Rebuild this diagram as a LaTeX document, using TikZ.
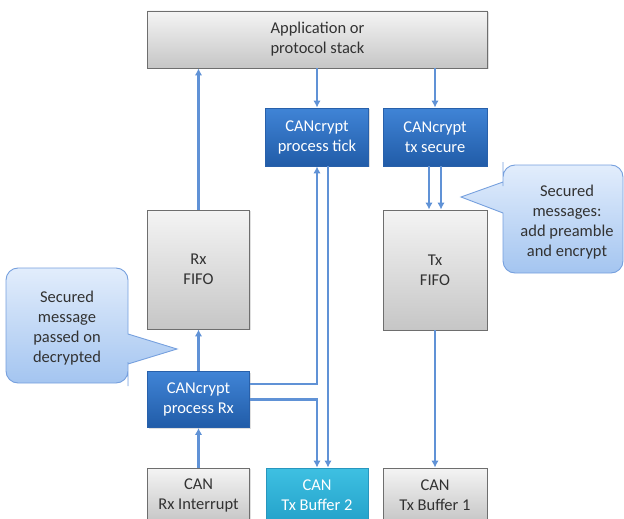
\documentclass[tikz,border=0pt]{standalone}
\usepackage{fontspec}
\setmainfont{Carlito}
\usepackage{xcolor}
\usetikzlibrary{positioning,arrows.meta,shadows}
\definecolor{linkblue}{RGB}{96,146,214}
\definecolor{graytop}{RGB}{244,244,244}
\definecolor{graybot}{RGB}{198,198,198}
\definecolor{grayedge}{RGB}{110,110,110}
\definecolor{graytext}{RGB}{50,50,50}
\definecolor{bluetop}{RGB}{64,132,214}
\definecolor{bluebot}{RGB}{33,92,168}
\definecolor{blueedge}{RGB}{40,96,170}
\definecolor{tealtop}{RGB}{62,192,226}
\definecolor{tealbot}{RGB}{36,162,202}
\definecolor{tealedge}{RGB}{40,150,190}
\definecolor{calltop}{RGB}{226,237,252}
\definecolor{callbot}{RGB}{164,197,240}
\definecolor{calledge}{RGB}{118,160,222}

\begin{document}
\begin{tikzpicture}[x=1pt,y=-1pt]
		\tikzset{>={Latex[length=7pt,width=7.5pt]}}
		\tikzset{
			box/.style={draw, line width=0.9pt, align=center, inner sep=2pt,
				font=\fontsize{16.5}{20}\selectfont,
				drop shadow={opacity=0.25, shadow xshift=1.2pt, shadow yshift=-1.2pt}},
			graybox/.style={box, draw=grayedge, top color=graytop, bottom color=graybot, text=graytext},
			bluebox/.style={box, draw=blueedge, top color=bluetop, bottom color=bluebot, text=white},
			tealbox/.style={box, draw=tealedge, top color=tealtop, bottom color=tealbot, text=white},
			link/.style={->, draw=linkblue, line width=2.2pt},
			callout/.style={draw=calledge, line width=0.9pt, top color=calltop, bottom color=callbot},
			calltext/.style={align=center, text=graytext, font=\fontsize{16.5}{20}\selectfont}
		}
		\useasboundingbox (0,0) rectangle (624,519);
		
		\node[graybox, minimum width=340pt, minimum height=57pt] (app) at (317.5,39.5) {Application or\\protocol stack};
		\node[bluebox, minimum width=103pt, minimum height=58pt] (tick) at (317,137) {CANcrypt\\process tick};
		\node[bluebox, minimum width=104pt, minimum height=58pt] (txsec) at (435,137) {CANcrypt\\tx secure};
		\node[graybox, minimum width=102pt, minimum height=119pt] (rxfifo) at (198.5,269.5) {Rx\\FIFO};
		\node[graybox, minimum width=104pt, minimum height=120pt] (txfifo) at (435,270) {Tx\\FIFO};
		\node[bluebox, minimum width=102pt, minimum height=56pt] (procrx) at (198.5,399.5) {CANcrypt\\process Rx};
		\node[graybox, minimum width=102pt, minimum height=54pt] (canrx) at (198.5,495) {CAN\\Rx Interrupt};
		\node[tealbox, minimum width=102pt, minimum height=54pt] (bufb) at (317,495) {CAN\\Tx Buffer 2};
		\node[graybox, minimum width=104pt, minimum height=54pt] (bufa) at (435,495) {CAN\\Tx Buffer 1};
		
		\draw[callout] (128,300) [rounded corners=12pt] -- (128,268) -- (6,268) -- (6,383) -- (128,383) -- (128,374)
			[sharp corners] -- (128,364) -- (177,349) -- (128,334) -- cycle;
		\node[calltext] (rxnote) at (67,328) {Secured\\message\\passed on\\decrypted};
		\draw[callout] (503,240) [rounded corners=12pt] -- (503,273) -- (623,273) -- (623,165) -- (503,165) -- (503,174)
			[sharp corners] -- (503,182) -- (461,197) -- (503,213) -- cycle;
		\node[calltext] (txnote) at (567,222) {Secured\\messages:\\add preamble\\and encrypt};
		
		\draw[link] (rxfifo.north) -- (rxfifo.north |- app.south);
		\draw[link] (app.south -| tick.north) -- (tick.north);
		\draw[link] (app.south -| txsec.north) -- (txsec.north);
		\draw[link] ([xshift=-6pt]txsec.south) -- ([xshift=-6pt]txfifo.north);
		\draw[link] ([xshift=6pt]txsec.south) -- ([xshift=6pt]txfifo.north);
		\draw[link] (txfifo) -- (bufa);
		\draw[link] (canrx) -- (procrx);
		\draw[link] (procrx) -- (rxfifo);
		\draw[link] ([yshift=15.5pt]procrx.east) -| (tick.south);
		\draw[link] (procrx.east) -| (bufb.north);
		\draw[link] ([xshift=11pt]tick.south) -- ([xshift=11pt]bufb.north);
		
\end{tikzpicture}
\end{document}
